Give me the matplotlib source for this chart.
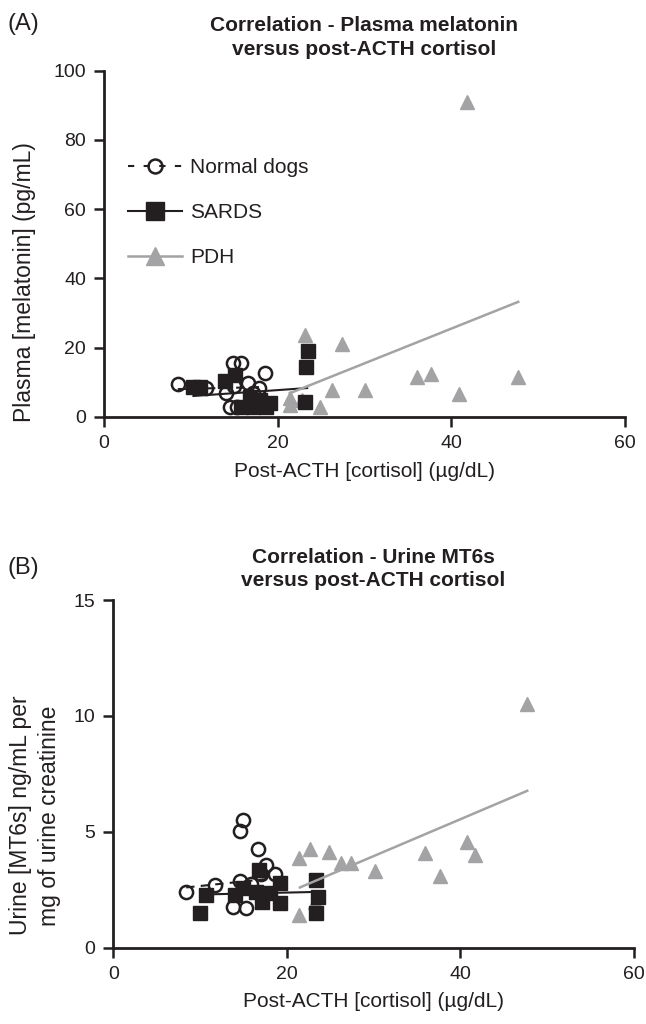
import matplotlib.pyplot as plt
from matplotlib.lines import Line2D

plt.rcParams['font.family'] = ['Liberation Sans', 'DejaVu Sans']

# (A) plasma melatonin vs post-ACTH cortisol
a_normal_x = [8.5, 11.8, 14.0, 14.5, 15.3, 14.9, 15.8, 18.5, 16.6, 17.8, 17.2, 15.0]
a_normal_y = [9.4, 8.2, 7.0, 2.8, 2.8, 15.4, 15.4, 12.6, 9.7, 8.3, 6.8, 9.0]
a_sards_x = [10.3, 11.1, 13.9, 15.1, 16.8, 17.2, 15.8, 18.0, 19.1, 18.7, 23.5, 23.3, 23.2]
a_sards_y = [8.7, 8.7, 10.4, 12.0, 5.8, 2.9, 2.9, 4.8, 4.0, 2.9, 19.0, 14.5, 4.3]
a_pdh_x = [21.4, 21.4, 22.8, 23.2, 24.9, 26.2, 27.4, 30.1, 36.0, 37.7, 40.9, 41.8, 47.7]
a_pdh_y = [5.3, 3.4, 4.8, 23.6, 2.7, 7.7, 21.0, 7.7, 11.4, 12.3, 6.7, 91.0, 11.6]
a_normal_fit = ([8.5, 18.5], [8.0, 8.6])
a_sards_fit = ([10.3, 23.4], [6.0, 8.3])
a_pdh_fit = ([21.4, 47.7], [6.8, 33.2])

# (B) urine MT6s vs post-ACTH cortisol
b_normal_x = [8.4, 11.7, 14.9, 14.6, 16.7, 17.6, 18.6, 14.6, 15.9, 13.8, 15.3, 17.0]
b_normal_y = [2.4, 2.7, 5.5, 5.05, 4.24, 3.56, 3.2, 2.9, 2.75, 1.77, 1.7, 3.2]
b_sards_x = [10.7, 10.0, 14.0, 15.0, 16.8, 16.5, 17.1, 18.0, 19.2, 19.2, 23.4, 23.6, 23.3]
b_sards_y = [2.28, 1.48, 2.27, 2.56, 3.35, 2.42, 1.98, 2.34, 2.8, 1.91, 2.92, 2.2, 1.51]
b_pdh_x = [21.4, 22.7, 24.8, 26.2, 27.4, 30.1, 35.9, 37.7, 40.8, 41.7, 21.4, 23.2, 47.7]
b_pdh_y = [3.85, 4.28, 4.14, 3.66, 3.66, 3.32, 4.07, 3.09, 4.57, 4.0, 1.41, 1.98, 10.53]
b_normal_fit = ([8.4, 18.6], [2.6, 3.0])
b_sards_fit = ([10.7, 23.7], [2.3, 2.41])
b_pdh_fit = ([21.5, 47.7], [2.6, 6.77])

black = '#231f20'
grey = '#a3a3a5'

fig = plt.figure(figsize=(6.46, 10.24), dpi=100)
axA = fig.add_axes([0.161, 0.593, 0.8065, 0.338])
axB = fig.add_axes([0.1754, 0.0745, 0.806, 0.3395])


def draw(ax, nx, ny, sx, sy, px, py, nfit, sfit, pfit):
    ax.plot(*nfit, color=black, lw=1.5, ls=(0, (4, 3)), zorder=2)
    ax.plot(nx, ny, ls='none', marker='o', ms=9.5, mfc='none', mec=black,
            mew=1.8, zorder=3, clip_on=False)
    ax.plot(px, py, ls='none', marker='^', ms=10, color=grey, zorder=3, clip_on=False)
    ax.plot(sx, sy, ls='none', marker='s', ms=9.5, color=black, zorder=4, clip_on=False)
    ax.plot(*sfit, color=black, lw=1.5, zorder=5)
    ax.plot(*pfit, color=grey, lw=1.8, zorder=5)
    ax.set_xlim(0, 60)
    ax.set_xticks([0, 20, 40, 60])
    for s in ['top', 'right']:
        ax.spines[s].set_visible(False)
    for s in ['left', 'bottom']:
        ax.spines[s].set_linewidth(2)
        ax.spines[s].set_color(black)
    ax.tick_params(direction='out', length=7, width=1.8, labelsize=14,
                   color=black, labelcolor=black, pad=6)
    ax.set_xlabel('Post-ACTH [cortisol] (µg/dL)', fontsize=15, labelpad=7,
                  color=black)


draw(axA, a_normal_x, a_normal_y, a_sards_x, a_sards_y, a_pdh_x, a_pdh_y,
     a_normal_fit, a_sards_fit, a_pdh_fit)
axA.set_ylim(0, 100)
axA.set_yticks([0, 20, 40, 60, 80, 100])
axA.set_ylabel('Plasma [melatonin] (pg/mL)', fontsize=16.5, color=black)
axA.yaxis.set_label_coords(-0.13, 0.39)

draw(axB, b_normal_x, b_normal_y, b_sards_x, b_sards_y, b_pdh_x, b_pdh_y,
     b_normal_fit, b_sards_fit, b_pdh_fit)
axB.set_ylim(0, 15)
axB.set_yticks([0, 5, 10, 15])
axB.set_ylabel('Urine [MT6s] ng/mL per\nmg of urine creatinine', fontsize=16.5,
               linespacing=1.35, color=black)
axB.yaxis.set_label_coords(-0.1, 0.38)

handles = [
    Line2D([], [], color=black, lw=1.5, ls=(0, (3, 4.5)), marker='o', ms=10,
           mfc='none', mec=black, mew=1.8),
    Line2D([], [], color=black, lw=1.5, marker='s', ms=13),
    Line2D([], [], color=grey, lw=1.8, marker='^', ms=13),
]
axA.legend(handles, ['Normal dogs', 'SARDS', 'PDH'], loc='center left',
           bbox_to_anchor=(0.046, 0.589), frameon=False, fontsize=15,
           handlelength=2.6, labelspacing=1.25, handletextpad=0.4,
           borderpad=0, borderaxespad=0, labelcolor=black)

fig.text(0.012, 0.977, '(A)', fontsize=17, va='center', color=black)
fig.text(0.563, 0.975, 'Correlation - Plasma melatonin', fontsize=15,
         fontweight='bold', ha='center', va='center', color=black)
fig.text(0.563, 0.952, 'versus post-ACTH cortisol', fontsize=15,
         fontweight='bold', ha='center', va='center', color=black)
fig.text(0.012, 0.445, '(B)', fontsize=17, va='center', color=black)
fig.text(0.578, 0.456, 'Correlation - Urine MT6s', fontsize=15,
         fontweight='bold', ha='center', va='center', color=black)
fig.text(0.578, 0.433, 'versus post-ACTH cortisol', fontsize=15,
         fontweight='bold', ha='center', va='center', color=black)

fig.savefig('out.png', dpi=100)
